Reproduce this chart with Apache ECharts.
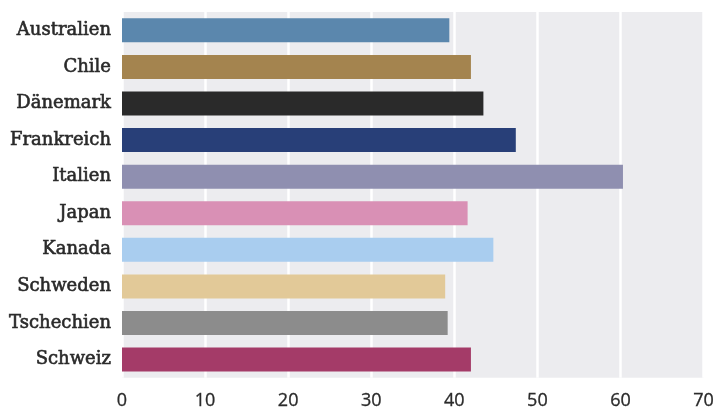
<!DOCTYPE html>
<html>
<head>
<meta charset="utf-8">
<script src="https://cdn.jsdelivr.net/npm/echarts@6/dist/echarts.min.js"></script>
<style>html,body{margin:0;padding:0;background:#fff}#c{width:717px;height:410px}</style>
</head>
<body>
<div id="c"></div>
<script>
const categories = ["Australien","Chile","Dänemark","Frankreich","Italien","Japan","Kanada","Schweden","Tschechien","Schweiz"];
const values = [39.4, 42.0, 43.5, 47.4, 60.3, 41.6, 44.7, 38.9, 39.2, 42.0];
const colors = ["#5b87ad","#a4844f","#2a2a2a","#283f78","#8f8fb0","#d990b5","#a9cdef","#e2c998","#8c8c8c","#a43b68"];
const xTicks = [0,10,20,30,40,50,60,70];

const chart = echarts.init(document.getElementById('c'));
chart.setOption({
  animation: false,
  grid: {left: 122, right: 13, top: 12, bottom: 28, show: true, backgroundColor: '#ececef', borderWidth: 0},
  xAxis: {
    type: 'value', min: xTicks[0], max: xTicks[xTicks.length-1], interval: 10,
    axisLine: {show: false}, axisTick: {show: false},
    splitLine: {show: true, lineStyle: {color: '#ffffff', width: 2.5}},
    axisLabel: {color: '#2b2b2b', fontFamily: 'Open Sans', fontSize: 18, margin: 14,
      textBorderColor: '#2b2b2b', textBorderWidth: 0.3}
  },
  yAxis: {
    type: 'category', data: categories, inverse: true,
    axisLine: {show: false}, axisTick: {show: false},
    axisLabel: {color: '#2a2a2a', fontFamily: 'DejaVu Serif', fontSize: 18, margin: 11,
      textBorderColor: '#2a2a2a', textBorderWidth: 0.6}
  },
  series: [{
    type: 'bar', barWidth: 24,
    data: values.map((v, i) => ({value: v, itemStyle: {color: colors[i]}}))
  }]
});
</script>
</body>
</html>
